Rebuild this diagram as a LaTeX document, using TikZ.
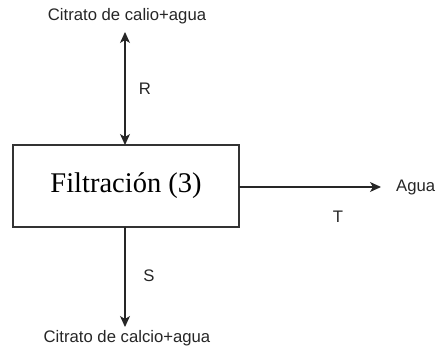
\documentclass[tikz,border=0pt]{standalone}
\usepackage{fontspec}
\setmainfont{Liberation Sans}
\newfontfamily\boxfont{Liberation Serif}
\usetikzlibrary{arrows.meta}
\begin{document}
\begin{tikzpicture}[x=1pt,y=1pt,
  lbl/.style={font=\fontsize{16.7}{19}\selectfont, inner sep=0pt, text=black!85},
  tip/.style={},
  flow/.style={draw=black!85, line width=1.2pt, -{Stealth[length=11pt,width=10pt,inset=3pt]}},
  procbox/.style={draw=black!80, line width=1.2pt, minimum width=226pt, minimum height=82pt, inner sep=0pt,
    font=\boxfont\fontsize{28.5}{32}\selectfont}]
\useasboundingbox (0,0) rectangle (437,354);
\node[procbox] (f) at (126,168) {Filtración (3)};
\node[lbl] (top) at (127,338) {Citrato de calio+agua};
\node[lbl] (bot) at (127,16) {Citrato de calcio+agua};
\node[lbl, anchor=west] (agua) at (396,167) {Agua};
\coordinate (tt) at (125,322);
\coordinate (tb) at (125,209);
\coordinate (bt) at (125,127);
\coordinate (bb) at (125,27);
\coordinate (rl) at (239,167);
\coordinate (rr) at (381,167);
\draw[flow, {Stealth[length=11pt,width=10pt,inset=3pt]}-{Stealth[length=11pt,width=10pt,inset=3pt]}] (tt) -- (tb);
\draw[flow] (bt) -- (bb);
\draw[flow] (rl) -- (rr);
\node[lbl] (r) at (145,265.5) {R};
\node[lbl] (s) at (149,78) {S};
\node[lbl] (t) at (338,137) {T};
\end{tikzpicture}
\end{document}
